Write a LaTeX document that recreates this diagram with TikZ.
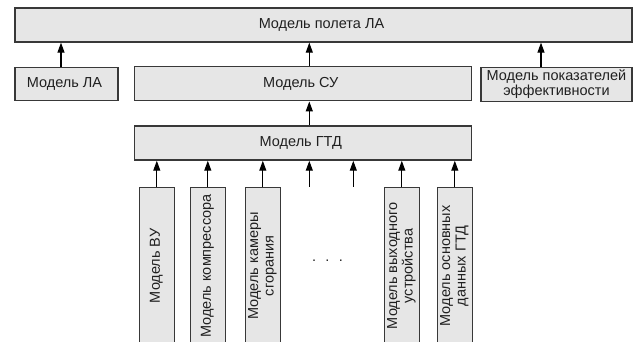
\documentclass[tikz,border=0pt]{standalone}
\usepackage{fontspec}
\setmainfont{Liberation Sans}
\usepackage{graphicx}
\usetikzlibrary{positioning,arrows.meta}

\definecolor{boxfill}{HTML}{E6E6E6}
\definecolor{boxline}{HTML}{383838}
\definecolor{textgray}{HTML}{202020}

\newcommand{\vlabel}[1]{\rotatebox{90}{\begin{tabular}{@{}c@{}}#1\end{tabular}}}

\begin{document}
\begin{tikzpicture}[x=1pt, y=1pt,
	font=\fontsize{14.5}{15.5}\selectfont, text=textgray,
	block/.style = { rectangle, draw=boxline, line width=1.3pt, fill=boxfill,
	inner sep=1pt, align=center},
	vblock/.style = { block, inner sep=0pt, minimum width=35pt, minimum height=157pt},
	arrow/.style = { draw=black, line width=1.1pt, -{Triangle[length=10pt,width=7pt]}} ]

  \useasboundingbox (0,0) rectangle (637,342);

  \node [name=flight, block, minimum width=617pt, minimum height=34pt]
	at (323.5,317) { Модель полета ЛА };
  \node [name=la, block, minimum width=103pt, minimum height=33pt,
	below right=24pt and 0pt of flight.south west] { Модель ЛА };
  \node [name=su, block, minimum width=337pt, minimum height=34pt,
	right=15pt of la] { Модель СУ };
  \node [name=eff, block, minimum width=151pt, minimum height=34pt,
	below left=24pt and 0pt of flight.south east]
	{ Модель показателей\\эффективности };
  \node [name=gtd, block, minimum width=337pt, minimum height=34pt,
	below=24pt of su] { Модель ГТД };

  % models of the engine parts
  \node [name=vu, vblock, below right=26pt and 5pt of gtd.south west]
	{\vlabel{Модель ВУ}};
  \node [name=comp, vblock, below right=26pt and 56pt of gtd.south west]
	{\vlabel{Модель компрессора}};
  \node [name=cham, vblock, below right=26pt and 111pt of gtd.south west]
	{\vlabel{Модель камеры\\сгорания}};
  \node [name=nozzle, vblock, below right=26pt and 250pt of gtd.south west]
	{\vlabel{Модель выходного\\устройства}};
  \node [name=data, vblock, below right=26pt and 303pt of gtd.south west]
	{\vlabel{Модель основных\\данных ГТД}};
  \node [name=dots, anchor=base] at (327.5,80) {.\hspace{9.4pt}.\hspace{9.4pt}.};

  \coordinate (free1) at ([xshift=6.5pt,yshift=-26pt]gtd.south);
  \coordinate (free2) at ([xshift=50.5pt,yshift=-26pt]gtd.south);

  \draw [arrow] ([xshift=-5.5pt]la.north) -- ([xshift=-5.5pt]la.north |- flight.south);
  \draw [arrow] ([xshift=6.5pt]su.north) -- ([xshift=6.5pt]su.north |- flight.south);
  \draw [arrow] ([xshift=-15.5pt]eff.north) -- ([xshift=-15.5pt]eff.north |- flight.south);
  \draw [arrow] ([xshift=6.5pt]gtd.north) -- ([xshift=6.5pt]gtd.north |- su.south);
  \foreach \part in {vu, comp, cham, nozzle, data}
	\draw [arrow] (\part.north) -- (\part.north |- gtd.south);
  \draw [arrow] (free1) -- (free1 |- gtd.south);
  \draw [arrow] (free2) -- (free2 |- gtd.south);
\end{tikzpicture}
\end{document}
